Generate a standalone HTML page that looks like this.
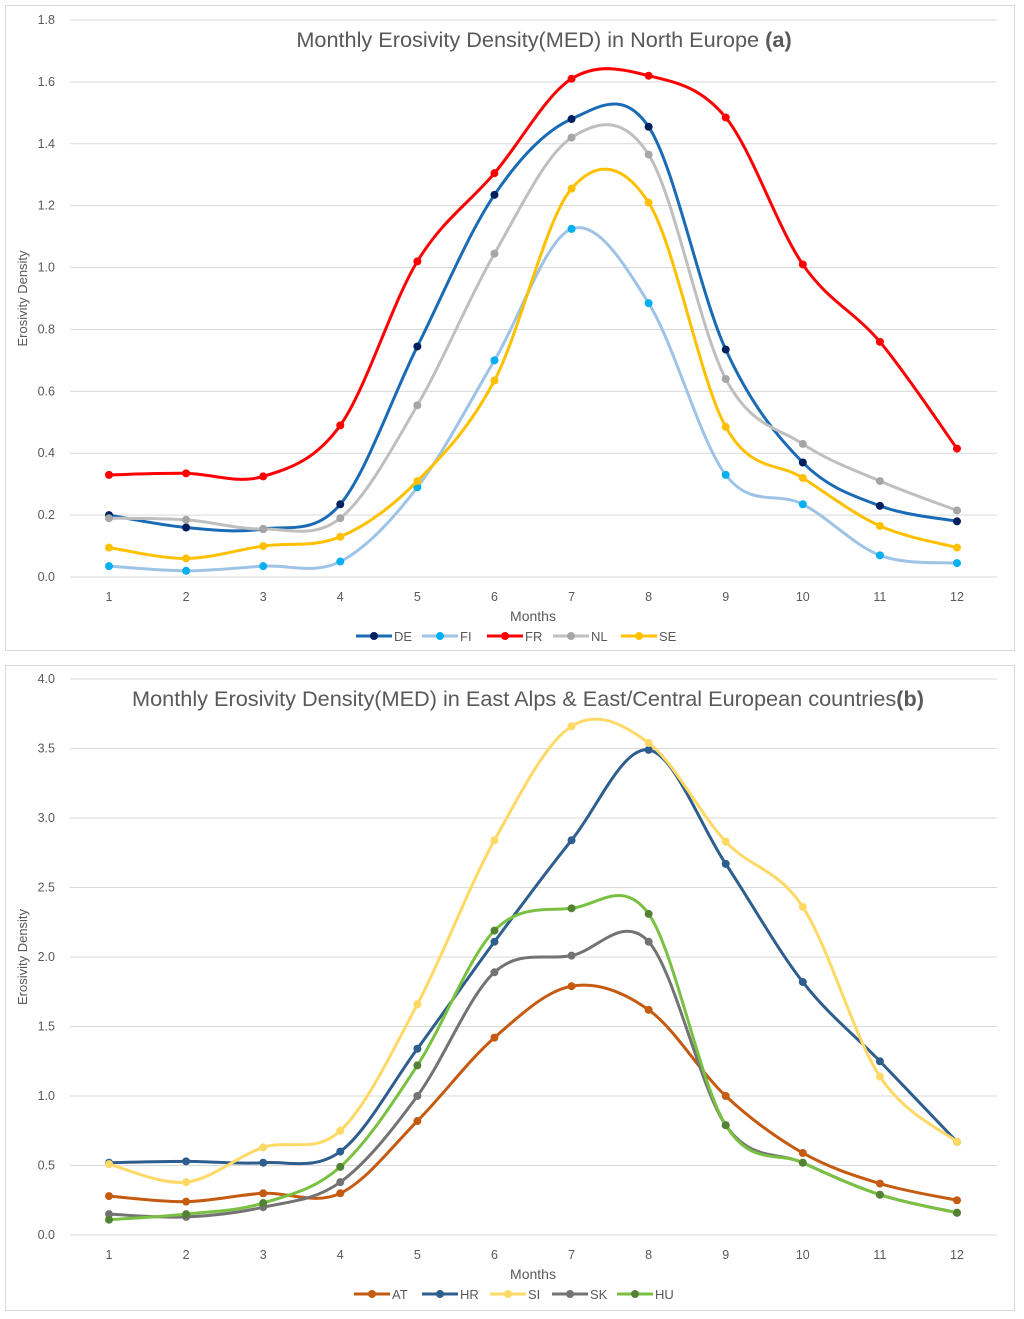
<!DOCTYPE html>
<html><head><meta charset="utf-8"><style>
body{margin:0;background:#fff;font-family:"Liberation Sans",sans-serif;}
svg{display:block}
</style></head><body>
<svg id="svg" width="1024" height="1319" xmlns="http://www.w3.org/2000/svg"></svg>
<script>
const months=[1,2,3,4,5,6,7,8,9,10,11,12];
const ticksA=[0,0.2,0.4,0.6,0.8,1.0,1.2,1.4,1.6,1.8];
const ticksB=[0,0.5,1.0,1.5,2.0,2.5,3.0,3.5,4.0];
const namesA=["DE","FI","FR","NL","SE"];
const DE=[.20,.16,.155,.235,.745,1.235,1.48,1.455,.735,.37,.23,.18];
const FI=[.035,.02,.035,.05,.29,.70,1.125,.885,.33,.235,.07,.045];
const FR=[.33,.335,.325,.49,1.02,1.305,1.61,1.62,1.485,1.01,.76,.415];
const NL=[.19,.185,.155,.19,.555,1.045,1.42,1.365,.64,.43,.31,.215];
const SE=[.095,.06,.10,.13,.31,.635,1.255,1.21,.485,.32,.165,.095];
const namesB=["AT","HR","SI","SK","HU"];
const AT=[.28,.24,.30,.30,.82,1.42,1.79,1.62,1.00,.59,.37,.25];
const HR=[.52,.53,.52,.60,1.34,2.11,2.84,3.49,2.67,1.82,1.25,.67];
const SI=[.51,.38,.63,.75,1.66,2.84,3.66,3.54,2.83,2.36,1.14,.67];
const SK=[.15,.13,.20,.38,1.00,1.89,2.01,2.11,.79,.52,.29,.16];
const HU=[.11,.15,.23,.49,1.22,2.19,2.35,2.31,.79,.52,.29,.16];

const NS="http://www.w3.org/2000/svg";
const svg=document.getElementById('svg');
function mk(tag,attrs,parent,text){const e=document.createElementNS(NS,tag);for(const k in attrs)e.setAttribute(k,attrs[k]);if(text!==undefined)e.textContent=text;(parent||svg).appendChild(e);return e;}
function smooth(pts){let d=`M${pts[0][0]},${pts[0][1]}`;for(let i=0;i<pts.length-1;i++){const p0=pts[i-1]||pts[i],p1=pts[i],p2=pts[i+1],p3=pts[i+2]||p2;const t=6;d+=` C${p1[0]+(p2[0]-p0[0])/t},${p1[1]+(p2[1]-p0[1])/t} ${p2[0]-(p3[0]-p1[0])/t},${p2[1]-(p3[1]-p1[1])/t} ${p2[0]},${p2[1]}`;}return d;}

function panel(cfg){
  const g=mk('g',{});
  
  
  const fr=mk('rect',{x:5.5,y:cfg.top+.5,width:1009,height:cfg.h,fill:'#fff',stroke:'#d9d9d9'},g);
  
  const x=m=>109+(m-1)*(957-109)/11;
  const y=v=>cfg.y0-(v/cfg.max)*(cfg.y0-cfg.yTop);
  cfg.ticks.forEach(t=>{
    const l=mk('line',{x1:70,x2:997,y1:y(t),y2:y(t),stroke:'#d9d9d9'},g);
    
    const tx=mk('text',{x:55,y:y(t)+4,'text-anchor':'end','font-size':12.5,fill:'#595959'},g,t.toFixed(1));
    
  });
  months.forEach(m=>{
    const tx=mk('text',{x:x(m),y:cfg.y0+24,'text-anchor':'middle','font-size':12.5,fill:'#595959'},g,String(m));
    
  });
  const tt=mk('text',{x:cfg.titleX,y:cfg.yTop+27,'text-anchor':'middle','font-size':21.7,fill:'#595959'},g);
  
  mk('tspan',{},tt,cfg.title);mk('tspan',{'font-weight':'bold'},tt,cfg.tag);
  const xt=mk('text',{x:533,y:cfg.y0+44,'text-anchor':'middle','font-size':14,fill:'#595959'},g,'Months');
  
  const yc=(cfg.y0+cfg.yTop)/2;
  const yt=mk('text',{x:27,y:yc,'text-anchor':'middle','font-size':13,fill:'#595959',transform:`rotate(-90 27 ${yc})`},g,'Erosivity Density');
  
  cfg.series.forEach((s,i)=>{
    const pts=s.data.map((v,j)=>[x(months[j]),y(v)]);
    const p=mk('path',{d:smooth(pts),fill:'none',stroke:s.line,'stroke-width':3},g);
    
    pts.forEach(q=>{const c=mk('circle',{cx:q[0],cy:q[1],r:4,fill:s.mk},g);
      });
    const lx=cfg.legX[i],ly=cfg.y0+59;
    const lg=mk('g',{},g);
    
    mk('line',{x1:lx,x2:lx+36,y1:ly,y2:ly,stroke:s.line,'stroke-width':3},lg);
    mk('circle',{cx:lx+18,cy:ly,r:4,fill:s.mk},lg);
    mk('text',{x:lx+38,y:ly+5,'font-size':13,fill:'#595959'},lg,s.n);
  });
}
panel({name:'chart-a',top:5,h:645,y0:577,yTop:20,max:1.8,ticks:ticksA,titleX:544,
  title:'Monthly Erosivity Density(MED) in North Europe ',tag:'(a)',legX:[356,422,487,553,621],
  series:[{n:namesA[0],data:DE,line:'#1a6bb5',mk:'#002060'},{n:namesA[1],data:FI,line:'#9dc3e6',mk:'#00b0f0'},
  {n:namesA[2],data:FR,line:'#ff0000',mk:'#ff0000'},{n:namesA[3],data:NL,line:'#bfbfbf',mk:'#a6a6a6'},
  {n:namesA[4],data:SE,line:'#ffc000',mk:'#ffc000'}]});
panel({name:'chart-b',top:665,h:645,y0:1235,yTop:679,max:4.0,ticks:ticksB,titleX:528,
  title:'Monthly Erosivity Density(MED) in East Alps & East/Central European countries',tag:'(b)',legX:[354,422,490,552,617],
  series:[{n:namesB[0],data:AT,line:'#c55a11',mk:'#c55a11'},{n:namesB[1],data:HR,line:'#2e5e8e',mk:'#2e5e8e'},
  {n:namesB[2],data:SI,line:'#ffd966',mk:'#ffd966'},{n:namesB[3],data:SK,line:'#737373',mk:'#737373'},
  {n:namesB[4],data:HU,line:'#7ac142',mk:'#548235'}]});
</script>
</body></html>
